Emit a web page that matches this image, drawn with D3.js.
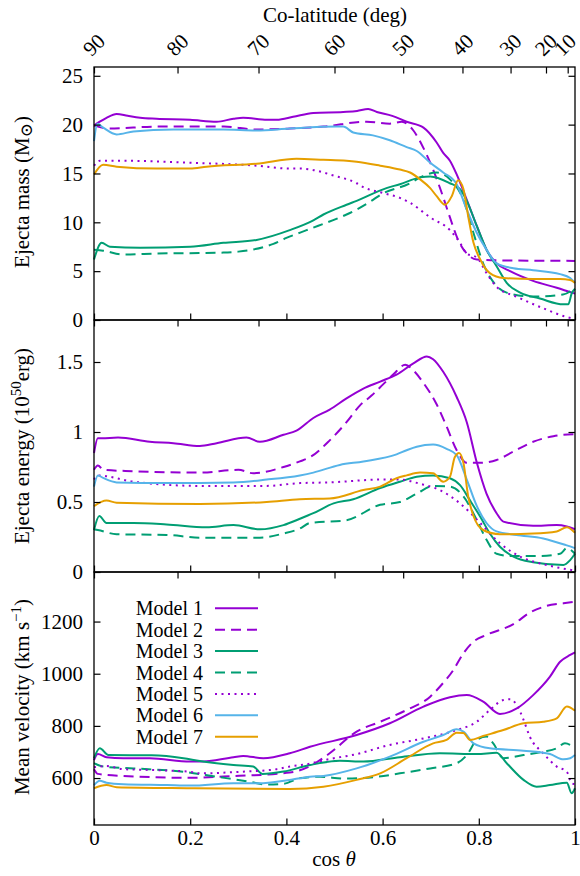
<!DOCTYPE html>
<html>
<head>
<meta charset="utf-8">
<script src="https://cdn.jsdelivr.net/npm/d3@7.9.0/dist/d3.min.js"></script>
<style>
  html, body { margin: 0; padding: 0; background: #fff; }
  svg text { font-family: "Liberation Serif", "DejaVu Serif", serif; fill: #000; }
</style>
</head>
<body>
<svg id="chart" width="580" height="876" font-family="Liberation Serif, DejaVu Serif, serif"></svg>
<script>
// --- DATA (cos theta, value) ---
const massM1 = [[0,19.9],[0.012,20.3],[0.026,20.7],[0.047,21.1],[0.07,20.9],[0.096,20.7],[0.13,20.6],[0.2,20.5],[0.255,20.3],[0.29,20.6],[0.31,20.7],[0.36,20.5],[0.38,20.5],[0.414,20.8],[0.456,21.2],[0.518,21.3],[0.547,21.4],[0.57,21.6],[0.588,21.3],[0.62,20.9],[0.65,20.3],[0.685,19.7],[0.712,18.2],[0.726,17.1],[0.74,16.3],[0.754,14.9],[0.775,12.3],[0.796,9.6],[0.816,7.2],[0.837,5.8],[0.865,5.0],[0.913,4.0],[0.962,3.3],[1,2.7]];
const massM2 = [[0,19.9],[0.033,19.6],[0.13,19.8],[0.27,19.8],[0.338,19.5],[0.407,19.6],[0.477,19.8],[0.567,20.3],[0.615,20.1],[0.64,20.3],[0.664,19.4],[0.685,17.6],[0.705,15.4],[0.723,13.0],[0.74,10.5],[0.757,8.2],[0.775,6.8],[0.796,6.2],[0.85,6.1],[1,6.05]];
const massM3 = [[0,6.2],[0.016,7.9],[0.033,7.5],[0.096,7.4],[0.2,7.5],[0.269,7.9],[0.338,8.2],[0.407,9.2],[0.456,10.2],[0.477,10.8],[0.525,11.8],[0.546,12.2],[0.608,13.5],[0.636,13.9],[0.678,14.6],[0.699,14.7],[0.74,14.0],[0.761,13.4],[0.775,12.2],[0.796,9.6],[0.816,7.2],[0.837,5.5],[0.858,3.8],[0.886,2.8],[0.927,2.2],[0.976,1.6],[0.986,1.6],[0.993,2.7],[1,3.2]];
const massM4 = [[0,7.2],[0.019,7.1],[0.061,6.7],[0.13,6.8],[0.269,6.9],[0.3,7.0],[0.373,7.8],[0.4,8.4],[0.442,9.2],[0.511,10.5],[0.525,10.8],[0.58,12.3],[0.595,12.8],[0.657,14.0],[0.678,14.6],[0.712,15.1],[0.74,14.4],[0.768,12.3],[0.789,8.9],[0.809,5.8],[0.83,3.9],[0.858,2.8],[0.913,2.4],[0.975,2.6],[1,3.3]];
const massM5 = [[0,15.8],[0.012,16.3],[0.061,16.3],[0.2,16.1],[0.338,15.8],[0.407,15.5],[0.428,15.5],[0.477,15.1],[0.49,14.9],[0.546,14.0],[0.56,13.6],[0.601,13.0],[0.636,12.5],[0.657,12.0],[0.699,10.5],[0.74,9.2],[0.761,7.9],[0.775,6.8],[0.796,6.4],[0.816,4.8],[0.837,3.4],[0.878,2.4],[0.934,1.2],[0.983,0.3],[1,0.1]];
const massM6 = [[0,18.3],[0.007,20.1],[0.019,19.7],[0.047,19.0],[0.082,19.3],[0.165,19.5],[0.269,19.5],[0.338,19.4],[0.407,19.6],[0.504,19.8],[0.518,19.8],[0.539,19.2],[0.58,18.9],[0.615,18.4],[0.65,17.7],[0.671,17.3],[0.699,16.1],[0.726,15.1],[0.754,13.9],[0.775,11.3],[0.796,8.9],[0.816,7.2],[0.837,5.8],[0.872,5.3],[0.913,5.1],[0.969,4.7],[0.99,4.3],[1,3.8]];
const massM7 = [[0,14.9],[0.019,15.9],[0.047,15.7],[0.13,15.5],[0.2,15.5],[0.234,15.7],[0.338,16.0],[0.421,16.5],[0.477,16.4],[0.525,16.3],[0.546,16.2],[0.595,15.8],[0.636,15.4],[0.657,15.1],[0.678,14.4],[0.699,13.5],[0.712,12.7],[0.73,11.8],[0.744,12.7],[0.757,14.3],[0.768,13.4],[0.778,10.6],[0.789,7.9],[0.803,6.2],[0.823,4.8],[0.851,4.3],[0.913,4.2],[0.969,4.2],[0.99,4.1],[1,3.8]];

const energyM1 = [[0,0.85],[0.008,0.955],[0.016,0.955],[0.05,0.96],[0.116,0.93],[0.165,0.92],[0.22,0.90],[0.255,0.92],[0.317,0.96],[0.345,0.93],[0.394,0.98],[0.421,1.01],[0.456,1.10],[0.49,1.16],[0.525,1.24],[0.56,1.31],[0.595,1.36],[0.629,1.41],[0.664,1.49],[0.692,1.54],[0.705,1.52],[0.726,1.43],[0.754,1.25],[0.775,1.07],[0.796,0.78],[0.816,0.56],[0.837,0.42],[0.851,0.36],[0.913,0.33],[0.962,0.335],[0.983,0.325],[1,0.305]];
const energyM2 = [[0,0.73],[0.008,0.76],[0.02,0.73],[0.082,0.72],[0.22,0.71],[0.3,0.73],[0.331,0.705],[0.394,0.75],[0.428,0.79],[0.449,0.82],[0.49,0.94],[0.525,1.07],[0.553,1.19],[0.577,1.26],[0.601,1.34],[0.622,1.41],[0.647,1.48],[0.664,1.44],[0.685,1.35],[0.712,1.20],[0.733,1.04],[0.754,0.87],[0.775,0.78],[0.803,0.78],[0.837,0.80],[0.872,0.86],[0.913,0.93],[0.955,0.97],[1,0.985]];
const energyM3 = [[0,0.30],[0.011,0.40],[0.026,0.35],[0.082,0.35],[0.151,0.34],[0.234,0.32],[0.29,0.335],[0.345,0.305],[0.394,0.335],[0.428,0.38],[0.456,0.42],[0.498,0.49],[0.539,0.52],[0.595,0.60],[0.636,0.645],[0.671,0.68],[0.705,0.69],[0.74,0.67],[0.761,0.62],[0.782,0.51],[0.803,0.395],[0.823,0.275],[0.844,0.18],[0.872,0.11],[0.913,0.07],[0.976,0.05],[0.99,0.085],[1,0.13]];
const energyM4 = [[0,0.305],[0.008,0.30],[0.047,0.27],[0.151,0.265],[0.22,0.245],[0.345,0.245],[0.394,0.275],[0.428,0.31],[0.449,0.35],[0.525,0.37],[0.595,0.48],[0.636,0.50],[0.671,0.56],[0.705,0.615],[0.74,0.61],[0.768,0.54],[0.796,0.37],[0.816,0.23],[0.837,0.13],[0.865,0.115],[0.927,0.115],[0.969,0.13],[0.983,0.17],[1,0.13]];
const energyM5 = [[0,0.66],[0.008,0.69],[0.082,0.645],[0.22,0.615],[0.359,0.615],[0.428,0.635],[0.49,0.64],[0.595,0.66],[0.636,0.66],[0.678,0.63],[0.719,0.585],[0.761,0.49],[0.803,0.35],[0.844,0.205],[0.886,0.11],[0.941,0.05],[1,0.01]];
const energyM6 = [[0,0.61],[0.008,0.69],[0.02,0.67],[0.047,0.64],[0.151,0.635],[0.29,0.64],[0.359,0.66],[0.428,0.69],[0.456,0.71],[0.511,0.765],[0.56,0.79],[0.629,0.84],[0.65,0.87],[0.671,0.895],[0.705,0.91],[0.733,0.88],[0.754,0.835],[0.775,0.66],[0.796,0.47],[0.816,0.35],[0.837,0.29],[0.878,0.265],[0.934,0.24],[0.983,0.19],[1,0.17]];
const energyM7 = [[0,0.47],[0.026,0.51],[0.047,0.495],[0.22,0.485],[0.359,0.50],[0.428,0.52],[0.49,0.525],[0.56,0.585],[0.595,0.61],[0.629,0.67],[0.65,0.69],[0.678,0.71],[0.705,0.705],[0.726,0.645],[0.74,0.68],[0.75,0.82],[0.759,0.85],[0.768,0.78],[0.778,0.54],[0.789,0.40],[0.809,0.30],[0.844,0.27],[0.913,0.275],[0.962,0.29],[0.983,0.32],[1,0.28]];

const velocityM1 = [[0,669],[0.008,692],[0.026,680],[0.061,676],[0.116,676],[0.2,663],[0.22,663],[0.29,680],[0.31,685],[0.352,676],[0.407,695],[0.449,720],[0.546,765],[0.615,810],[0.685,874],[0.74,910],[0.775,918],[0.809,893],[0.844,846],[0.879,867],[0.913,918],[0.948,989],[0.969,1046],[0.99,1072],[1,1082]];
const velocityM2 = [[0,634],[0.008,616],[0.061,608],[0.2,601],[0.269,606],[0.407,621],[0.449,646],[0.49,695],[0.546,778],[0.595,816],[0.65,861],[0.699,912],[0.719,950],[0.747,1014],[0.768,1078],[0.789,1123],[0.816,1149],[0.872,1190],[0.906,1234],[0.941,1260],[0.976,1270],[1,1276]];
const velocityM3 = [[0,676],[0.012,714],[0.03,688],[0.12,687],[0.186,676],[0.22,665],[0.29,650],[0.331,644],[0.35,616],[0.394,625],[0.449,650],[0.511,666],[0.56,663],[0.636,680],[0.719,695],[0.796,692],[0.837,697],[0.858,657],[0.893,593],[0.92,567],[0.948,573],[0.983,582],[0.993,542],[1,561]];
const velocityM4 = [[0,657],[0.019,644],[0.082,637],[0.186,624],[0.255,605],[0.324,586],[0.359,575],[0.394,578],[0.43,600],[0.47,605],[0.52,598],[0.58,603],[0.636,618],[0.699,637],[0.754,657],[0.775,688],[0.796,746],[0.816,759],[0.83,733],[0.851,676],[0.893,688],[0.934,701],[0.962,714],[0.979,733],[0.99,727],[1,714]];
const velocityM5 = [[0,641],[0.026,646],[0.061,634],[0.116,631],[0.2,624],[0.22,618],[0.304,624],[0.38,634],[0.407,644],[0.449,655],[0.477,668],[0.546,692],[0.615,727],[0.685,752],[0.754,784],[0.796,816],[0.823,861],[0.851,899],[0.865,902],[0.879,880],[0.893,823],[0.906,759],[0.934,695],[0.962,644],[0.983,624],[0.993,580],[1,576]];
const velocityM6 = [[0,573],[0.012,590],[0.026,582],[0.061,576],[0.151,573],[0.2,571],[0.29,580],[0.338,580],[0.428,599],[0.449,605],[0.477,608],[0.546,637],[0.615,682],[0.685,739],[0.726,765],[0.754,787],[0.768,778],[0.789,733],[0.823,714],[0.893,705],[0.948,692],[0.976,672],[0.99,676],[1,688]];
const velocityM7 = [[0,561],[0.026,573],[0.047,565],[0.2,561],[0.407,558],[0.477,567],[0.546,593],[0.595,618],[0.65,676],[0.705,733],[0.733,746],[0.754,774],[0.768,773],[0.782,746],[0.809,761],[0.851,784],[0.893,810],[0.934,816],[0.962,829],[0.983,874],[1,858]];

const modelNames = ["Model 1", "Model 2", "Model 3", "Model 4", "Model 5", "Model 6", "Model 7"];
const xTicks = [0, 0.2, 0.4, 0.6, 0.8, 1];
const colatTicks = [90, 80, 70, 60, 50, 40, 30, 20, 10];
const massTicks = [0, 5, 10, 15, 20, 25];
const energyTicks = [0, 0.5, 1, 1.5];
const velocityTicks = [600, 800, 1000, 1200];

// --- STYLES ---
const modelColors = ["#9400d3", "#9400d3", "#009e73", "#009e73", "#9400d3", "#56b4e9", "#e69f00"];
const modelDash = [null, "10,6", null, "10,6", "2,4.5", null, null];

const svg = d3.select("#chart");
const FS = 21;
const x = d3.scaleLinear().domain([0, 1]).range([94, 575]);

const panels = [
  { series: [massM1, massM2, massM3, massM4, massM5, massM6, massM7], domain: [0, 25.9], top: 67, bottom: 320, ticks: massTicks, fmt: d3.format("d") },
  { series: [energyM1, energyM2, energyM3, energyM4, energyM5, energyM6, energyM7], domain: [0, 1.8], top: 320, bottom: 572, ticks: energyTicks, fmt: d => String(d) },
  { series: [velocityM1, velocityM2, velocityM3, velocityM4, velocityM5, velocityM6, velocityM7], domain: [420, 1390], top: 572, bottom: 825, ticks: velocityTicks, fmt: d3.format("d") },
];

const colatPos = colatTicks.map(d => Math.cos(d * Math.PI / 180));

panels.forEach((p, i) => {
  const y = d3.scaleLinear().domain(p.domain).range([p.bottom, p.top]);
  const g = svg.append("g");

  // curves
  const line = d3.line().x(d => x(d[0])).y(d => y(d[1])).curve(d3.curveMonotoneX);
  p.series.forEach((s, k) => {
    g.append("path")
      .datum(s)
      .attr("d", line)
      .attr("fill", "none")
      .attr("stroke", modelColors[k])
      .attr("stroke-width", 2)
      .attr("stroke-dasharray", modelDash[k])
      .attr("stroke-linejoin", "round");
  });

  // axes (ticks pointing inward, as gnuplot does)
  const left = g.append("g").attr("transform", "translate(94,0)")
    .call(d3.axisLeft(y).tickValues(p.ticks).tickFormat(p.fmt).tickSizeInner(-6.5).tickSizeOuter(0).tickPadding(11));
  const right = g.append("g").attr("transform", "translate(575,0)")
    .call(d3.axisRight(y).tickValues(p.ticks).tickFormat("").tickSizeInner(-6.5).tickSizeOuter(0));
  const bottom = g.append("g").attr("transform", `translate(0,${p.bottom})`)
    .call(d3.axisBottom(x).tickValues(xTicks).tickFormat(i === 2 ? d => String(d) : "").tickSizeInner(-6.5).tickSizeOuter(0).tickPadding(5));
  const top = g.append("g").attr("transform", `translate(0,${p.top})`)
    .call(d3.axisTop(x).tickValues(colatPos).tickFormat("").tickSizeInner(-6.5).tickSizeOuter(0));

  [left, right, bottom, top].forEach(a => {
    a.attr("font-family", null).attr("font-size", FS);
    a.select(".domain").remove();
    a.selectAll("line").attr("stroke", "#000").attr("stroke-width", 1.2);
    a.selectAll("text").attr("font-size", FS);
  });

  g.append("rect")
    .attr("x", 94).attr("y", p.top)
    .attr("width", 575 - 94).attr("height", p.bottom - p.top)
    .attr("fill", "none").attr("stroke", "#000").attr("stroke-width", 1.3);
});

// top co-latitude labels, rotated (last one nudged so it stays inside the page)
svg.append("g").selectAll("text")
  .data(colatTicks)
  .join("text")
  .attr("transform", d => `translate(${Math.min(x(Math.cos(d * Math.PI / 180)), 565)},45) rotate(-45)`)
  .attr("text-anchor", "middle")
  .attr("dominant-baseline", "central")
  .attr("font-size", FS)
  .text(d => d);

svg.append("text")
  .attr("x", 335).attr("y", 22)
  .attr("text-anchor", "middle")
  .attr("font-size", FS)
  .text("Co-latitude (deg)");

// y-axis titles
const t1 = svg.append("text").attr("transform", "translate(29,192) rotate(-90)")
  .attr("text-anchor", "middle").attr("font-size", FS);
t1.append("tspan").text("Ejecta mass (M");
t1.append("tspan").attr("font-size", 17).attr("dy", 3).text("⊙");
t1.append("tspan").attr("dy", -3).text(")");

const t2 = svg.append("text").attr("transform", "translate(29,446) rotate(-90)")
  .attr("text-anchor", "middle").attr("font-size", FS);
t2.append("tspan").text("Ejecta energy (10");
t2.append("tspan").attr("font-size", 15).attr("dy", -8).text("50");
t2.append("tspan").attr("dy", 8).text("erg)");

const t3 = svg.append("text").attr("transform", "translate(29,697) rotate(-90)")
  .attr("text-anchor", "middle").attr("font-size", FS);
t3.append("tspan").text("Mean velocity (km s");
t3.append("tspan").attr("font-size", 15).attr("dy", -8).text("−1");
t3.append("tspan").attr("dy", 8).text(")");

// x-axis title
const xt = svg.append("text").attr("x", 334).attr("y", 866)
  .attr("text-anchor", "middle").attr("font-size", FS);
xt.append("tspan").text("cos ");
xt.append("tspan").attr("font-style", "italic").text("θ");

// legend
const legend = svg.append("g");
modelNames.forEach((name, k) => {
  const ly = 608.3 + k * 21.4;
  legend.append("text")
    .attr("x", 203).attr("y", ly)
    .attr("text-anchor", "end")
    .attr("dominant-baseline", "central")
    .attr("font-size", 20)
    .text(name);
  legend.append("line")
    .attr("x1", 215).attr("x2", 258)
    .attr("y1", ly).attr("y2", ly)
    .attr("stroke", modelColors[k])
    .attr("stroke-width", 2)
    .attr("stroke-dasharray", modelDash[k]);
});
</script>
</body>
</html>
